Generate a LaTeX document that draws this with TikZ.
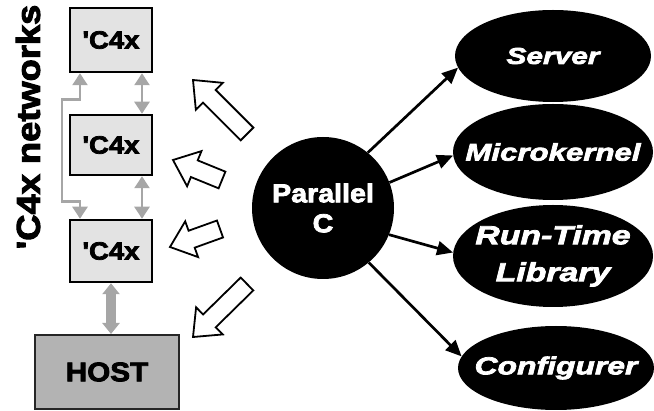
\documentclass[tikz,border=0pt]{standalone}
\usepackage{fontspec}
\setmainfont{Liberation Sans}
\newfontfamily\blk[FakeStretch=1.1,FakeBold=3]{Liberation Sans}
\newfontfamily\wide[FakeStretch=1.3,FakeBold=3]{Liberation Sans}
\usetikzlibrary{arrows.meta,shapes.geometric,calc}
\definecolor{boxgray}{HTML}{E3E3E3}
\definecolor{hostgray}{HTML}{B3B3B3}
\definecolor{arrgray}{HTML}{A6A6A6}
\tikzset{
  c4x/.style={draw=black, line width=2.5pt, fill=boxgray, minimum width=82pt, inner sep=0pt, font=\blk\bfseries\fontsize{25}{28}\selectfont},
  hostbox/.style={draw=black!85, line width=2pt, fill=hostgray, minimum width=144pt, minimum height=74pt, inner sep=0pt, font=\blk\bfseries\fontsize{27}{30}\selectfont},
  oval/.style={ellipse, fill=black, text=white, inner sep=0pt, align=center, font=\wide\bfseries\itshape\fontsize{23}{30}\selectfont},
  grayarr/.style={draw=arrgray, line width=2.7pt, {Triangle[length=12pt,width=15pt]}-{Triangle[length=12pt,width=15pt]}},
  hostarr/.style={draw=arrgray, line width=10pt, {Triangle[length=11pt,width=17pt]}-{Triangle[length=11pt,width=17pt]}},
  blkarr/.style={draw=black, line width=2.7pt, -{Triangle[length=16pt,width=14pt]}},
  hollow/.style={draw=black, line width=1.8pt, fill=white, line join=miter}
}
\newcommand\hollowarrow[2]{%
  \path[hollow] ($(#1)!9pt!90:(#2)$) -- ($($(#2)!23pt!(#1)$)!9pt!90:(#2)$)
    -- ($($(#2)!23pt!(#1)$)!19pt!90:(#2)$) -- (#2)
    -- ($($(#2)!23pt!(#1)$)!19pt!-90:(#2)$)
    -- ($($(#2)!23pt!(#1)$)!9pt!-90:(#2)$) -- ($(#1)!9pt!-90:(#2)$) -- cycle;}
\begin{document}
\begin{tikzpicture}[x=1pt,y=-1pt]
\useasboundingbox (0,0) rectangle (654,411);
% left column
\node[c4x, minimum height=64pt] (b1) at (111,40) {'C4x};
\node[c4x, minimum height=60pt] (b2) at (111,145) {'C4x};
\node[c4x, minimum height=62pt] (b3) at (111,251) {'C4x};
\node[hostbox] (host) at (107,372) {HOST};
\node[rotate=90, font=\blk\bfseries\fontsize{33}{36}\selectfont, inner sep=0pt] (net) at (28,127) {'C4x networks};
% gray links
\draw[grayarr] ([xshift=31pt]b1.south) -- ([xshift=31pt]b2.north);
\draw[grayarr] ([xshift=31pt]b2.south) -- ([xshift=31pt]b3.north);
\draw[grayarr] ([xshift=-31pt]b1.south) -- ++(0,26) -- ++(-18,0) -- ++(0,102) -- ++(18,0) -- ([xshift=-31pt]b3.north);
\draw[hostarr] (b3.south) -- (b3.south |- host.north);
% central node
\node[circle, fill=black, text=white, minimum size=142pt, inner sep=0pt, align=center, font=\blk\bfseries\fontsize{26}{30}\selectfont] (pc) at (323,208) {Parallel\\C};
% right ellipses
\node[oval, minimum width=196pt, minimum height=92pt] (server) at (553,56) {\makebox[0pt]{Server}};
\node[oval, minimum width=200pt, minimum height=96pt, font=\wide\bfseries\itshape\fontsize{24}{30}\selectfont] (micro) at (553,152) {\makebox[0pt]{Microkernel}};
\node[oval, minimum width=200pt, minimum height=102pt, font=\wide\bfseries\itshape\fontsize{26}{37}\selectfont] (rtl) at (553,256) {\makebox[0pt]{Run-Time}\\\makebox[0pt]{Library}};
\node[oval, minimum width=196pt, minimum height=84pt, font=\wide\bfseries\itshape\fontsize{24.5}{30}\selectfont] (conf) at (556,368) {\makebox[0pt]{Configurer}};
\draw[blkarr] (pc.51) -- (server.187);
\draw[blkarr] (pc.21) -- (micro.182);
\draw[blkarr] (pc.-22) -- (rtl.178);
\draw[blkarr] (pc.-50) -- (conf.173);
% hollow arrows
\coordinate (t1) at (247,134); \coordinate (h1) at (193,80);
\coordinate (t2) at (222,180); \coordinate (h2) at (173,160);
\coordinate (t3) at (220,229); \coordinate (h3) at (170,247);
\coordinate (t4) at (247,284); \coordinate (h4) at (193,337);
\hollowarrow{t1}{h1}
\hollowarrow{t2}{h2}
\hollowarrow{t3}{h3}
\hollowarrow{t4}{h4}
\end{tikzpicture}
\end{document}
